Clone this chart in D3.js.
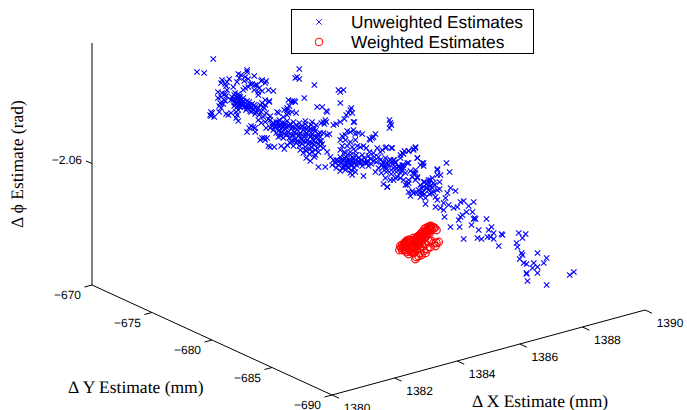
<!DOCTYPE html>
<html><head><meta charset="utf-8">
<script src="https://cdn.jsdelivr.net/npm/d3@7"></script>
<style>html,body{margin:0;padding:0;background:#fff;overflow:hidden}svg{display:block}text{text-rendering:geometricPrecision}</style>
</head><body><div id="chart"></div>
<script>
const xTicks=[1380,1382,1384,1386,1388,1390];
const yTicks=[-670,-675,-680,-685,-690];
const phiTicks=[-2.06];
const legendLabels=["Unweighted Estimates","Weighted Estimates"];
// Readings off the projected view: horizontal position in dX mm, height in dPhi rad.
const unweightedX=[
1380.04,1379.52,1379.75,1380.32,1380.48,1380.42,1380.55,1380.45,1380.29,1380.84,
1380.93,1380.87,1381.06,1381.03,1381.16,1380.80,1381.22,1381.12,1381.12,1381.35,
1381.28,1381.38,1381.16,1381.57,1381.51,1381.44,1381.60,1381.70,1381.73,1381.48,
1381.06,1381.00,1381.80,1381.96,1381.60,1381.35,1381.48,1380.32,1380.19,1380.42,
1380.29,1380.45,1380.19,1380.39,1380.26,1380.48,1380.68,1380.36,1380.23,1380.42,
1380.29,1379.97,1379.94,1380.00,1380.07,1379.97,1380.23,1380.45,1380.52,1380.61,
1380.77,1380.84,1380.80,1380.77,1380.84,1380.64,1380.74,1380.84,1380.90,1380.68,
1380.77,1380.84,1380.93,1381.00,1380.74,1380.87,1380.96,1380.71,1380.80,1380.90,
1381.06,1381.12,1381.03,1381.16,1381.09,1381.22,1381.28,1381.19,1381.32,1381.38,
1381.25,1381.41,1381.48,1381.54,1381.60,1381.70,1381.83,1381.67,1381.57,1381.51,
1381.64,1381.48,1381.57,1381.73,1381.80,1381.70,1381.86,1382.40,1382.47,1382.40,
1382.31,1382.28,1382.44,1381.32,1381.25,1381.38,1381.19,1381.86,1381.96,1382.05,
1382.15,1381.92,1382.02,1382.15,1382.24,1382.34,1382.08,1382.24,1381.86,1381.73,
1382.08,1384.10,1384.04,1384.10,1382.95,1382.56,1382.63,1382.53,1382.66,1381.83,
1381.70,1381.64,1383.36,1383.52,1383.65,1383.68,1384.42,1384.36,1384.45,1384.29,
1384.48,1384.55,1384.10,1383.97,1384.23,1383.88,1383.56,1383.49,1383.62,1383.59,
1383.65,1383.56,1383.68,1383.75,1383.46,1382.12,1382.40,1382.44,1382.56,1382.69,
1382.98,1383.20,1381.92,1382.02,1382.12,1382.21,1382.31,1382.40,1382.50,1382.60,
1382.69,1382.79,1382.88,1382.98,1383.08,1383.17,1383.27,1383.33,1381.96,1382.05,
1382.15,1382.24,1382.34,1382.44,1382.53,1382.63,1382.72,1382.82,1382.92,1383.01,
1383.11,1383.20,1383.30,1383.40,1382.18,1382.28,1382.37,1382.47,1382.56,1382.66,
1382.76,1382.85,1382.95,1383.04,1383.14,1383.24,1383.33,1383.43,1383.52,1383.46,
1382.50,1382.60,1382.69,1382.79,1382.88,1382.98,1383.08,1383.17,1383.27,1383.36,
1383.46,1382.21,1382.31,1382.40,1382.82,1382.92,1383.01,1383.11,1383.20,1383.30,
1383.40,1381.54,1381.70,1381.76,1381.60,1381.80,1381.99,1381.86,1383.14,1383.01,
1383.27,1383.40,1383.62,1383.78,1383.68,1383.88,1383.56,1384.52,1385.70,1385.67,
1385.73,1385.67,1384.52,1384.42,1384.58,1384.32,1384.26,1384.68,1384.16,1384.80,
1385.12,1385.06,1385.16,1385.03,1385.22,1384.10,1384.26,1384.42,1384.58,1384.16,
1384.32,1384.48,1384.64,1384.10,1384.23,1384.42,1384.58,1384.74,1384.84,1384.93,
1385.03,1384.10,1384.20,1384.29,1384.39,1384.48,1384.58,1384.68,1384.77,1384.87,
1384.96,1385.06,1385.16,1384.13,1384.23,1384.32,1384.42,1384.52,1384.61,1384.71,
1384.80,1384.90,1385.00,1385.09,1384.16,1384.26,1384.36,1384.45,1384.55,1384.04,
1383.97,1384.10,1384.48,1384.42,1384.58,1384.84,1385.28,1385.54,1385.76,1385.38,
1385.16,1386.50,1386.44,1386.28,1386.15,1386.12,1386.02,1386.56,1386.76,1386.02,
1385.82,1385.86,1385.70,1385.54,1385.38,1385.25,1385.64,1385.48,1385.32,1385.80,
1385.96,1386.12,1386.28,1385.57,1385.73,1385.89,1386.05,1385.41,1385.22,1385.54,
1385.70,1385.86,1386.02,1385.60,1385.48,1386.18,1386.28,1386.40,1386.56,1386.50,
1386.34,1387.20,1386.66,1386.79,1386.92,1387.04,1386.60,1386.72,1386.85,1386.98,
1387.11,1386.66,1386.82,1386.95,1387.08,1387.20,1386.53,1386.40,1387.27,1387.14,
1386.34,1385.44,1385.57,1385.73,1386.08,1386.28,1386.50,1386.44,1386.56,1386.72,
1386.66,1386.76,1387.20,1387.49,1387.59,1387.30,1387.20,1386.50,1386.44,1386.56,
1386.50,1385.48,1385.44,1385.54,1385.60,1385.70,1385.80,1385.86,1385.96,1386.08,
1386.12,1386.24,1386.02,1386.18,1386.28,1385.92,1385.80,1385.60,1386.12,1386.24,
1386.28,1386.44,1386.76,1386.98,1386.72,1386.88,1387.08,1386.82,1387.14,1387.30,
1387.40,1387.27,1387.52,1387.62,1387.78,1387.46,1387.20,1387.40,1387.56,1387.72,
1387.84,1387.43,1387.94,1388.04,1388.36,1388.20,1388.13,1388.32,1387.94,1387.88,
1388.00,1388.39,1388.36,1388.42,1388.29,1388.77,1388.52,1387.62,1387.91,1388.04,
1388.48,1388.61,1388.93,1388.84,1389.00,1388.80,1388.90,1389.00,1389.28,1389.25,
1389.16,1389.80,1390.02,1389.92,1389.73,1389.76,1389.89,1389.92,1389.83,1389.96,
1390.05,1390.40,1390.69,1390.60,1390.28,1390.24,1390.40,1390.40,1390.05,1390.05,
1390.08,1390.69,1391.43,1391.56,
1380.71,1380.80,1380.87,1380.61,1380.71,1380.80,1380.90,1381.00,1380.84,1380.93,
1380.77,1381.00,1381.09,1381.19,1381.12,1381.22,1381.35,1381.28,1381.44,1381.38,
1382.05,1382.15,1382.28,1382.37,1382.47,1382.56,1382.66,1382.76,1382.85,1382.95,
1383.04,1383.14,1383.24,1382.18,1382.31,1382.40,1382.50,1382.60,1382.69,1382.79,
1382.88,1382.98,1383.08,1383.17,1383.27,1383.36,1382.53,1382.63,1382.72,1382.82,
1382.92,1383.01,1383.11,1383.20,1383.30,1383.40,1383.49,1382.98,1383.14,1383.30,
1384.13,1384.23,1384.32,1384.42,1384.52,1384.29,1384.39,1384.48,1384.58,1384.68,
1384.77,1384.87,1384.96,1384.20,1384.29,1384.04,1383.94,1383.84,1383.97,1384.42,
1384.61,1384.80,1384.26,1385.00,1385.19,1385.32,1385.48,1385.64,1385.76,1385.41,
1385.57,1385.73,1385.89,1386.05,1386.76,1386.85,1386.95,1387.04,1386.79,1386.92,
1387.01,1386.69,1386.63,1382.79,1382.72,1382.66,1382.79,1383.27,1384.20,1381.12,
1381.38,1381.67,1382.12];
const unweightedPhi=[
-2.0394,-2.042,-2.0422,-2.0436,-2.044,-2.0444,-2.0434,-2.0448,-2.0442,-2.0424,
-2.0426,-2.0432,-2.043,-2.0438,-2.0434,-2.044,-2.0444,-2.042,-2.0416,-2.0428,
-2.0444,-2.0446,-2.045,-2.0438,-2.0452,-2.0446,-2.0436,-2.0442,-2.0438,-2.046,
-2.0452,-2.0456,-2.0456,-2.0458,-2.0458,-2.0456,-2.0466,-2.0462,-2.046,-2.0464,
-2.047,-2.0468,-2.0472,-2.0476,-2.0482,-2.0456,-2.045,-2.0484,-2.0488,-2.0478,
-2.0492,-2.05,-2.0506,-2.0502,-2.051,-2.0508,-2.05,-2.0504,-2.0506,-2.0502,
-2.05,-2.0496,-2.0506,-2.0512,-2.0518,-2.047,-2.0462,-2.0464,-2.047,-2.0476,
-2.0474,-2.0478,-2.0476,-2.0472,-2.0482,-2.0484,-2.0482,-2.0488,-2.049,-2.049,
-2.0482,-2.0478,-2.049,-2.0488,-2.0496,-2.0492,-2.0484,-2.048,-2.0496,-2.049,
-2.05,-2.05,-2.0492,-2.0486,-2.0482,-2.0476,-2.0478,-2.0492,-2.05,-2.0506,
-2.051,-2.0516,-2.0522,-2.0502,-2.0514,-2.052,-2.0508,-2.0496,-2.0488,-2.0506,
-2.0496,-2.051,-2.0476,-2.053,-2.0528,-2.0532,-2.0532,-2.0516,-2.0522,-2.052,
-2.0516,-2.0528,-2.053,-2.0526,-2.0522,-2.0526,-2.0534,-2.0532,-2.0532,-2.0532,
-2.05,-2.046,-2.0456,-2.0482,-2.0472,-2.0478,-2.0478,-2.048,-2.048,-2.048,
-2.0486,-2.049,-2.049,-2.049,-2.0498,-2.05,-2.0496,-2.0502,-2.0492,-2.0506,
-2.0502,-2.052,-2.052,-2.0524,-2.0514,-2.0526,-2.052,-2.0522,-2.0516,-2.0524,
-2.052,-2.0542,-2.0546,-2.0544,-2.0542,-2.0502,-2.0492,-2.0502,-2.05,-2.0502,
-2.0518,-2.052,-2.0524,-2.0528,-2.052,-2.0526,-2.0522,-2.0518,-2.0524,-2.052,
-2.0526,-2.0522,-2.0528,-2.0524,-2.053,-2.0526,-2.0532,-2.0526,-2.0536,-2.0542,
-2.0536,-2.054,-2.0534,-2.054,-2.0534,-2.054,-2.0536,-2.0542,-2.0536,-2.0542,
-2.0538,-2.0544,-2.0538,-2.0544,-2.0548,-2.0552,-2.0546,-2.0552,-2.0548,-2.0554,
-2.0548,-2.0554,-2.055,-2.0556,-2.055,-2.0556,-2.0552,-2.0558,-2.0564,-2.055,
-2.0562,-2.0568,-2.0562,-2.0568,-2.0564,-2.057,-2.0564,-2.057,-2.0566,-2.0572,
-2.0568,-2.0568,-2.0574,-2.0566,-2.0576,-2.0582,-2.0578,-2.0584,-2.058,-2.0586,
-2.058,-2.0556,-2.0556,-2.0552,-2.0552,-2.0568,-2.057,-2.057,-2.0598,-2.0592,
-2.059,-2.061,-2.061,-2.059,-2.058,-2.0596,-2.0572,-2.052,-2.0522,-2.0516,
-2.0526,-2.0532,-2.0536,-2.054,-2.0544,-2.0538,-2.0546,-2.0542,-2.0548,-2.0544,
-2.0552,-2.0556,-2.055,-2.0554,-2.0544,-2.0556,-2.0556,-2.056,-2.0556,-2.0568,
-2.0568,-2.057,-2.0568,-2.0576,-2.058,-2.058,-2.0578,-2.057,-2.0568,-2.0572,
-2.058,-2.059,-2.0596,-2.059,-2.0596,-2.059,-2.0596,-2.0592,-2.0596,-2.0592,
-2.0598,-2.0594,-2.0598,-2.0602,-2.0606,-2.06,-2.0606,-2.06,-2.0606,-2.0602,
-2.0608,-2.0602,-2.0608,-2.0604,-2.0612,-2.0616,-2.0612,-2.0616,-2.0612,-2.0606,
-2.0612,-2.0618,-2.0626,-2.0622,-2.062,-2.0628,-2.0572,-2.0572,-2.0572,-2.058,
-2.0582,-2.0572,-2.0576,-2.0578,-2.0578,-2.0584,-2.0586,-2.0592,-2.0602,-2.0592,
-2.0596,-2.06,-2.0596,-2.0592,-2.0596,-2.06,-2.0606,-2.061,-2.0612,-2.0612,
-2.0608,-2.0606,-2.0602,-2.062,-2.0624,-2.062,-2.0618,-2.0622,-2.062,-2.0632,
-2.0636,-2.0632,-2.0632,-2.065,-2.0644,-2.0646,-2.0642,-2.063,-2.0632,-2.0622,
-2.0618,-2.0616,-2.0646,-2.064,-2.0636,-2.0632,-2.0656,-2.066,-2.0652,-2.0648,
-2.0646,-2.067,-2.0672,-2.0664,-2.066,-2.0656,-2.0662,-2.0658,-2.064,-2.067,
-2.0668,-2.0576,-2.057,-2.0572,-2.0582,-2.0578,-2.057,-2.0574,-2.0592,-2.0602,
-2.0606,-2.0608,-2.0614,-2.0602,-2.062,-2.0626,-2.0626,-2.0616,-2.0622,-2.063,
-2.0636,-2.06,-2.0606,-2.061,-2.0602,-2.0596,-2.0596,-2.0602,-2.061,-2.0606,
-2.0612,-2.0602,-2.0622,-2.0622,-2.0636,-2.063,-2.0636,-2.065,-2.0636,-2.0646,
-2.066,-2.0662,-2.065,-2.0636,-2.0662,-2.0652,-2.0642,-2.0684,-2.069,-2.0692,
-2.0696,-2.0654,-2.0662,-2.0652,-2.0658,-2.0672,-2.0676,-2.0682,-2.0686,-2.0692,
-2.069,-2.071,-2.068,-2.0678,-2.068,-2.0688,-2.07,-2.07,-2.071,-2.0716,
-2.0706,-2.0712,-2.0714,-2.0714,-2.0726,-2.0714,-2.0736,-2.073,-2.073,-2.0754,
-2.0752,-2.0754,-2.073,-2.0736,-2.0742,-2.075,-2.075,-2.0754,-2.0746,-2.0744,
-2.0768,-2.0742,-2.0744,-2.0752,-2.0762,-2.077,-2.0782,-2.0786,-2.0794,-2.0802,
-2.0804,-2.0782,-2.0792,-2.0802,-2.0802,-2.0812,-2.081,-2.0822,-2.0822,-2.0824,
-2.0838,-2.0846,-2.0826,-2.082,
-2.0466,-2.047,-2.0468,-2.0476,-2.048,-2.0482,-2.0478,-2.0478,-2.0488,-2.0486,
-2.0484,-2.0486,-2.0488,-2.0486,-2.0492,-2.0498,-2.0486,-2.049,-2.0496,-2.0504,
-2.0526,-2.053,-2.0528,-2.053,-2.0528,-2.053,-2.0532,-2.053,-2.0532,-2.0532,
-2.0534,-2.0534,-2.0536,-2.0542,-2.0544,-2.0544,-2.0544,-2.0546,-2.0544,-2.0546,
-2.0546,-2.0546,-2.0546,-2.0548,-2.0548,-2.055,-2.0558,-2.0558,-2.0558,-2.056,
-2.0558,-2.056,-2.056,-2.0562,-2.056,-2.0564,-2.0558,-2.0576,-2.0574,-2.0576,
-2.0596,-2.0592,-2.0596,-2.0598,-2.0594,-2.0604,-2.0602,-2.0606,-2.0602,-2.0598,
-2.0602,-2.06,-2.0602,-2.061,-2.0608,-2.0598,-2.0602,-2.0606,-2.0596,-2.0586,
-2.0586,-2.0586,-2.0582,-2.0588,-2.059,-2.059,-2.0602,-2.0598,-2.0604,-2.0606,
-2.0614,-2.0616,-2.0612,-2.0612,-2.064,-2.0644,-2.0642,-2.0652,-2.0664,-2.0656,
-2.0662,-2.0652,-2.0662,-2.0414,-2.043,-2.0432,-2.0434,-2.0446,-2.0456,-2.054,
-2.054,-2.0552,-2.055];
const weightedX=[
1385.99,1386.05,1386.12,1386.18,1386.08,1386.15,1386.21,1386.28,1386.24,1386.31,
1386.37,1386.34,1386.40,1386.47,1386.53,1386.44,1386.50,1386.56,1386.63,1386.60,
1386.66,1386.72,1386.69,1386.76,1386.82,1386.88,1386.79,1386.85,1386.92,1386.98,
1387.04,1387.11,1387.17,1387.01,1386.95,1386.85,1386.76,1386.66,1386.56,1386.47,
1386.37,1386.28,1386.44,1386.53,1386.63,1386.72,1386.82,1386.92,1387.01,1387.08,
1387.17,1387.24,1387.14,1386.98,1386.88,1386.76,1386.63,1386.69,1386.82,1386.53,
1386.50,1386.60,1387.08,
1386.08,1386.18,1386.28,1386.37,1386.47,1386.56,1386.66,1386.76,1386.85,1386.95,
1386.15,1386.24,1386.34,1386.44,1386.53,1386.63,1386.72,1386.82,1386.92,1386.02,
1386.12,1386.21,1386.31,1386.40,1386.50,1386.60,1386.69,1386.79,1386.88,1386.98,
1386.18,1386.28,1386.37,1386.47,1386.56,1386.66];
const weightedPhi=[
-2.0776,-2.0772,-2.077,-2.0776,-2.0766,-2.0762,-2.0758,-2.0756,-2.0766,-2.0772,
-2.0766,-2.0776,-2.076,-2.0756,-2.0752,-2.077,-2.0764,-2.0758,-2.0754,-2.0748,
-2.0744,-2.074,-2.075,-2.0746,-2.074,-2.0736,-2.0734,-2.0732,-2.073,-2.0728,
-2.073,-2.0732,-2.0736,-2.0736,-2.0742,-2.0748,-2.0754,-2.0762,-2.0766,-2.0774,
-2.078,-2.0784,-2.0782,-2.0776,-2.0772,-2.0768,-2.0764,-2.0758,-2.0758,-2.0762,
-2.0762,-2.076,-2.0768,-2.077,-2.0774,-2.0778,-2.0782,-2.0786,-2.0782,-2.079,
-2.0794,-2.0788,-2.0732,
-2.0776,-2.077,-2.0766,-2.076,-2.0762,-2.075,-2.0752,-2.0742,-2.0738,-2.0734,
-2.0768,-2.076,-2.0756,-2.0752,-2.0758,-2.0748,-2.0748,-2.0744,-2.0738,-2.0768,
-2.0774,-2.078,-2.0778,-2.0772,-2.077,-2.0764,-2.0758,-2.0752,-2.0744,-2.0732,
-2.0764,-2.0762,-2.0774,-2.0768,-2.0762,-2.0756];

const width=687,height=410;
const svg=d3.select("#chart").append("svg").attr("width",width).attr("height",height);

// Box axes: each one is a scale along an edge of the 3-D view
const xAlongH=d3.scaleLinear().domain([1380,1390]).range([332,645]);
const xAlongV=d3.scaleLinear().domain([1380,1390]).range([395,310]);
const yAlongH=d3.scaleLinear().domain([-670,-690]).range([92,332]);
const yAlongV=d3.scaleLinear().domain([-670,-690]).range([285,395]);
const phiScale=d3.scaleLinear().domain([-2.0846,-2.0362]).range([285,43]);
const viewX=d3.scaleLinear().domain([1380,1390]).range([212,525]);

const black="#000";
const axes=svg.append("g").attr("stroke",black).attr("stroke-width",1).attr("fill","none");
const seg=(x1,y1,x2,y2)=>axes.append("line").attr("x1",x1).attr("y1",y1).attr("x2",x2).attr("y2",y2);
seg(92,phiScale.range()[0],92,phiScale.range()[1]);
seg(yAlongH(-670),yAlongV(-670),yAlongH(-690),yAlongV(-690));
seg(xAlongH(1380),xAlongV(1380),xAlongH(1390),xAlongV(1390));

const labels=svg.append("g").attr("font-family","'Liberation Sans',Arial,sans-serif").attr("font-size",12).attr("fill",black);
const fmt=v=>String(v).replace("-","\u2212");

xTicks.forEach(t=>{
  const px=xAlongH(t),py=xAlongV(t);
  seg(px,py,px+7,py+3.2);
  labels.append("text").attr("x",px+25).attr("y",py+17).attr("text-anchor","middle").text(fmt(t));
});
yTicks.forEach(t=>{
  const px=yAlongH(t),py=yAlongV(t);
  seg(px,py,px-7.5,py+2);
  labels.append("text").attr("x",px-11).attr("y",py+14).attr("text-anchor","end").text(fmt(t));
});
phiTicks.forEach(t=>{
  const py=phiScale(t);
  seg(92,py+1.5,86,py-1);
  labels.append("text").attr("x",82).attr("y",py+2).attr("text-anchor","end").text(fmt(t));
});

const titles=svg.append("g").attr("font-family","'Liberation Serif','Times New Roman',serif").attr("font-size",17.5).attr("fill",black);
titles.append("text").attr("x",68).attr("y",393).text("\u0394 Y Estimate (mm)");
titles.append("text").attr("x",472).attr("y",407).text("\u0394 X Estimate (mm)");
titles.append("text").attr("transform","translate(23,228) rotate(-90)").text("\u0394 \u03D5 Estimate (rad)");

// Unweighted crosses
const crossPath="M-2.7,-2.7L2.7,2.7M-2.7,2.7L2.7,-2.7";
svg.append("g").attr("stroke","#0000ff").attr("stroke-width",1.1).attr("fill","none")
 .selectAll("path").data(d3.zip(unweightedX,unweightedPhi)).join("path")
 .attr("d",crossPath).attr("transform",d=>`translate(${viewX(d[0])},${phiScale(d[1])})`);
// Weighted circles
svg.append("g").attr("stroke","#ff0000").attr("stroke-width",1.2).attr("fill","none")
 .selectAll("circle").data(d3.zip(weightedX,weightedPhi)).join("circle")
 .attr("r",3.8).attr("cx",d=>viewX(d[0])).attr("cy",d=>phiScale(d[1]));

// Legend
const legend=svg.append("g");
legend.append("rect").attr("x",291.5).attr("y",9.5).attr("width",242).attr("height",44)
 .attr("fill","#fff").attr("stroke",black).attr("stroke-width",1);
legend.append("path").attr("d",crossPath).attr("transform","translate(319,22)").attr("stroke","#0000ff").attr("stroke-width",0.9).attr("fill","none");
legend.append("circle").attr("cx",319).attr("cy",42).attr("r",3.8).attr("stroke","#ff0000").attr("fill","none");
legend.selectAll("text").data(legendLabels).join("text")
 .attr("x",351).attr("y",(d,i)=>i?48:28)
 .attr("font-family","'Liberation Sans',Arial,sans-serif").attr("font-size",17.3).attr("fill",black).text(d=>d);
</script></body></html>
